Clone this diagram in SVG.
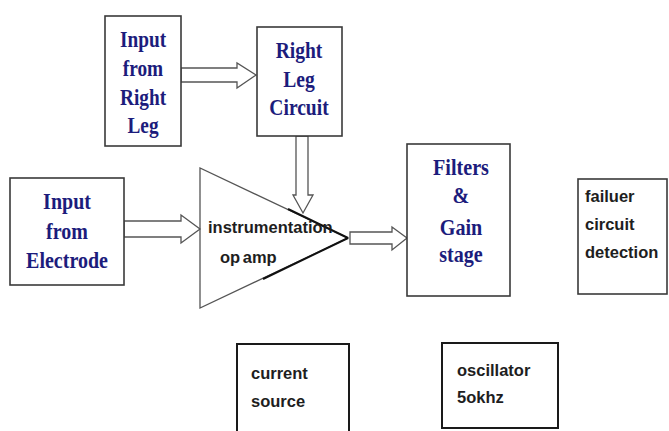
<svg xmlns="http://www.w3.org/2000/svg" width="669" height="431" viewBox="0 0 669 431">
<style>
.box{fill:#fff;stroke:#3a3a3a;stroke-width:1.6}
.box2{fill:#fff;stroke:#1a1a1a;stroke-width:2}
.arr{fill:#fff;stroke:#555;stroke-width:1.3;stroke-linejoin:miter}
.ser{font-family:"Liberation Serif","Times New Roman",serif;font-weight:bold;font-size:23px;fill:#1c1c7c;text-anchor:middle}
.san{font-family:"Liberation Sans",Arial,sans-serif;font-weight:bold;font-size:16.5px;fill:#1e1e1e}
</style>
<rect width="669" height="431" fill="#fff"/>
<g id="connectors">
<polygon class="arr" points="181,68 237,68 237,63 256,75 237,88 237,82 181,82"/>
<polygon class="arr" points="296,136 308,136 308,195 313,195 303,213 293,195 296,195"/>
<polygon class="arr" points="124,221 181,221 181,215 200,229 181,243 181,237 124,237"/>
<polygon class="arr" points="350,232 392,232 392,227 407,238 392,250 392,244 350,244"/>
</g>
<g id="input-right-leg">
<rect class="box" x="105" y="16" width="76" height="130"/>
<g transform="translate(143,0) scale(0.84,1)">
<text class="ser" x="0" y="47">Input</text>
<text class="ser" x="0" y="76">from</text>
<text class="ser" x="0" y="105">Right</text>
<text class="ser" x="0" y="133">Leg</text>
</g>
</g>
<g id="right-leg-circuit">
<rect class="box" x="257" y="27" width="85" height="109"/>
<g transform="translate(299,0) scale(0.85,1)">
<text class="ser" x="0" y="58">Right</text>
<text class="ser" x="0" y="87">Leg</text>
<text class="ser" x="0" y="115">Circuit</text>
</g>
</g>
<g id="input-electrode">
<rect class="box" x="10" y="178" width="114" height="107"/>
<g transform="translate(67,0) scale(0.87,1)">
<text class="ser" x="0" y="209">Input</text>
<text class="ser" x="0" y="239">from</text>
<text class="ser" x="0" y="268">Electrode</text>
</g>
</g>
<g id="opamp">
<polygon points="200,168 200,308 348,238" fill="none" stroke="#555" stroke-width="1.3"/>
<line x1="288" y1="209" x2="348" y2="238" stroke="#111" stroke-width="2"/>
<line x1="348" y1="238" x2="263" y2="279" stroke="#111" stroke-width="2"/>
<text class="san" x="208" y="233">instrumentation</text>
<text class="san" x="220" y="263" word-spacing="-2">op amp</text>
</g>
<g id="filters">
<rect class="box" x="407" y="144" width="103" height="152"/>
<g transform="translate(461,0) scale(0.875,1)">
<text class="ser" x="0" y="175">Filters</text>
<text class="ser" x="0" y="203">&amp;</text>
<text class="ser" x="0" y="235">Gain</text>
<text class="ser" x="0" y="262">stage</text>
</g>
</g>
<g id="failure-detection">
<rect class="box" x="578" y="179" width="89" height="115"/>
<text class="san" x="585" y="202">failuer</text>
<text class="san" x="585" y="230">circuit</text>
<text class="san" x="585" y="258">detection</text>
</g>
<g id="current-source">
<rect class="box2" x="237" y="344" width="112" height="100"/>
<text class="san" x="251" y="379">current</text>
<text class="san" x="251" y="407">source</text>
</g>
<g id="oscillator">
<rect class="box2" x="442" y="343" width="116" height="85"/>
<text class="san" x="457" y="376">oscillator</text>
<text class="san" x="457" y="403">5okhz</text>
</g>
</svg>
